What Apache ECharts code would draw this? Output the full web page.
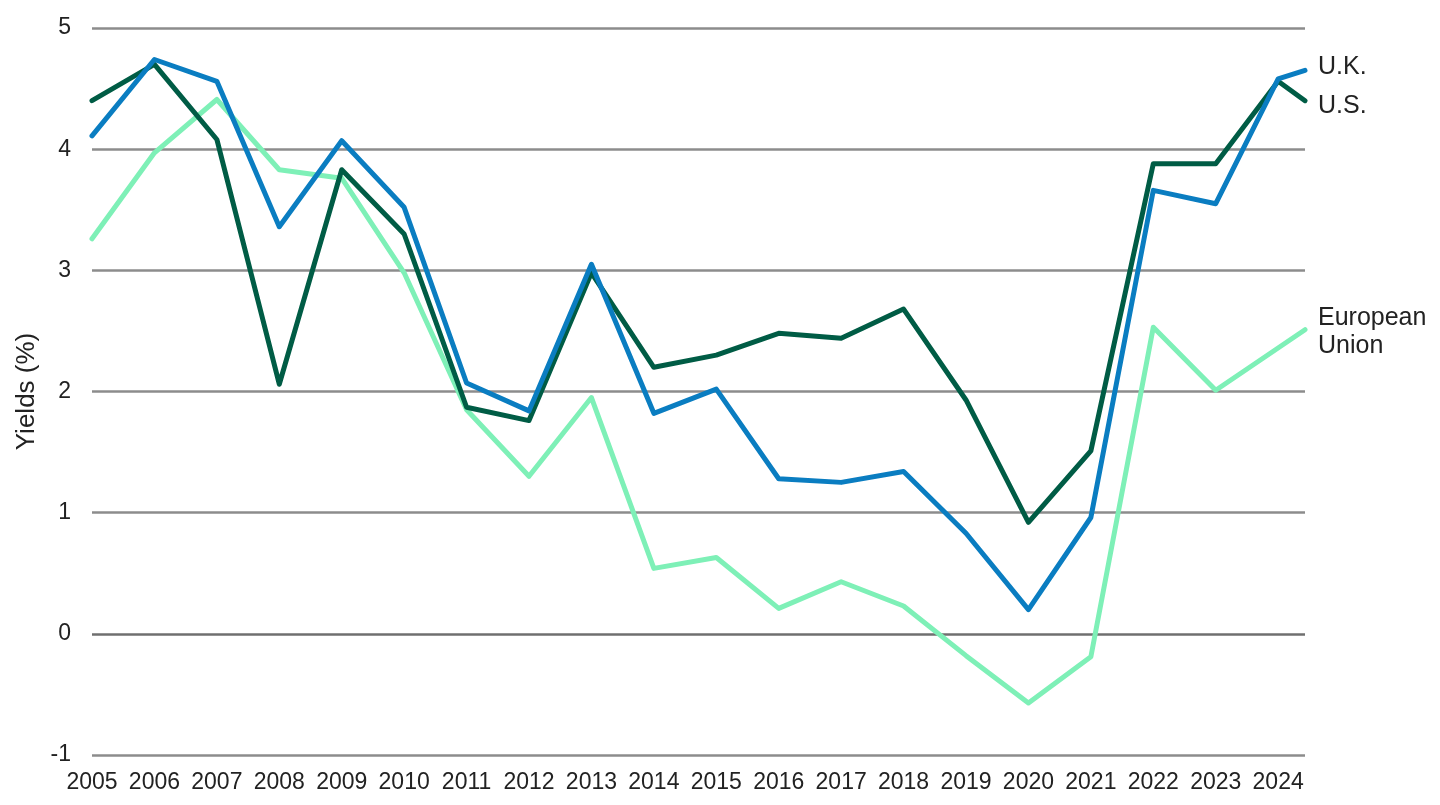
<!DOCTYPE html>
<html>
<head>
<meta charset="UTF-8">
<title>Yields</title>
<script src="https://cdn.jsdelivr.net/npm/echarts@6/dist/echarts.min.js"></script>
<style>
  html, body { margin: 0; padding: 0; background: #fff; }
  #chart { width: 1440px; height: 805px; }
</style>
</head>
<body>
<div id="chart"></div>
<script>
// last point sits a little past 2024 (latest reading)
const years = [2005, 2006, 2007, 2008, 2009, 2010, 2011, 2012, 2013, 2014,
  2015, 2016, 2017, 2018, 2019, 2020, 2021, 2022, 2023, 2024, 2024.43];

const usYields = [4.40, 4.70, 4.08, 2.06, 3.83, 3.30, 1.87, 1.76, 2.98, 2.20,
  2.30, 2.48, 2.44, 2.68, 1.93, 0.92, 1.51, 3.88, 3.88, 4.56, 4.40];
const ukYields = [4.11, 4.74, 4.56, 3.36, 4.07, 3.52, 2.07, 1.84, 3.05, 1.82,
  2.02, 1.28, 1.25, 1.34, 0.83, 0.20, 0.96, 3.66, 3.55, 4.58, 4.65];
// no visible vertex for the EU at 2024
const euYields = [3.26, 3.97, 4.41, 3.83, 3.76, 2.98, 1.85, 1.30, 1.95, 0.54,
  0.63, 0.21, 0.43, 0.23, -0.18, -0.57, -0.19, 2.53, 2.01, null, 2.51];

const yTicks = [-1, 0, 1, 2, 3, 4, 5];

const FONT = "'Liberation Sans', Arial, sans-serif";
const TEXT = '#222';

function pairs(vals) {
  return years.map((y, i) => [y, vals[i]]);
}

function lineSeries(name, vals, color, label, offsetY) {
  return {
    name: name,
    type: 'line',
    data: pairs(vals),
    connectNulls: true,
    showSymbol: false,
    symbol: 'none',
    lineStyle: { color: color, width: 5, cap: 'round', join: 'round' },
    itemStyle: { color: color },
    emphasis: { disabled: true },
    endLabel: {
      show: true,
      formatter: label,
      distance: 13,
      offset: [0, offsetY],
      color: TEXT,
      fontFamily: FONT,
      fontSize: 25,
      lineHeight: 28
    }
  };
}

const chart = echarts.init(document.getElementById('chart'));

chart.setOption({
  animation: false,
  backgroundColor: '#fff',
  grid: { left: 92, right: 135, top: 28, bottom: 50 },
  xAxis: {
    type: 'value',
    min: years[0],
    max: years[years.length - 1],
    interval: 1,
    axisLine: { show: false },
    axisTick: { show: false },
    splitLine: { show: false },
    axisLabel: {
      color: TEXT,
      fontFamily: FONT,
      fontSize: 23,
      margin: 16,
      showMaxLabel: false,
      formatter: v => (Math.abs(v - Math.round(v)) < 1e-6 ? String(Math.round(v)) : '')
    }
  },
  yAxis: {
    type: 'value',
    min: yTicks[0],
    max: yTicks[yTicks.length - 1],
    interval: 1,
    name: 'Yields (%)',
    nameLocation: 'middle',
    nameRotate: 90,
    nameGap: 50,
    nameTextStyle: { color: TEXT, fontFamily: FONT, fontSize: 26 },
    axisLine: { show: false },
    axisTick: { show: false },
    axisLabel: { color: TEXT, fontFamily: FONT, fontSize: 23, margin: 21 },
    splitLine: {
      show: true,
      lineStyle: {
        color: yTicks.map(t => (t === 0 ? '#6f6f6f' : '#8c8c8c')),
        width: 2.5
      }
    }
  },
  series: [
    lineSeries('European Union', euYields, '#7ef0b7', 'European\nUnion', 2),
    lineSeries('U.S.', usYields, '#005c45', 'U.S.', 5),
    lineSeries('U.K.', ukYields, '#0a7dc1', 'U.K.', -3)
  ]
});
</script>
</body>
</html>
